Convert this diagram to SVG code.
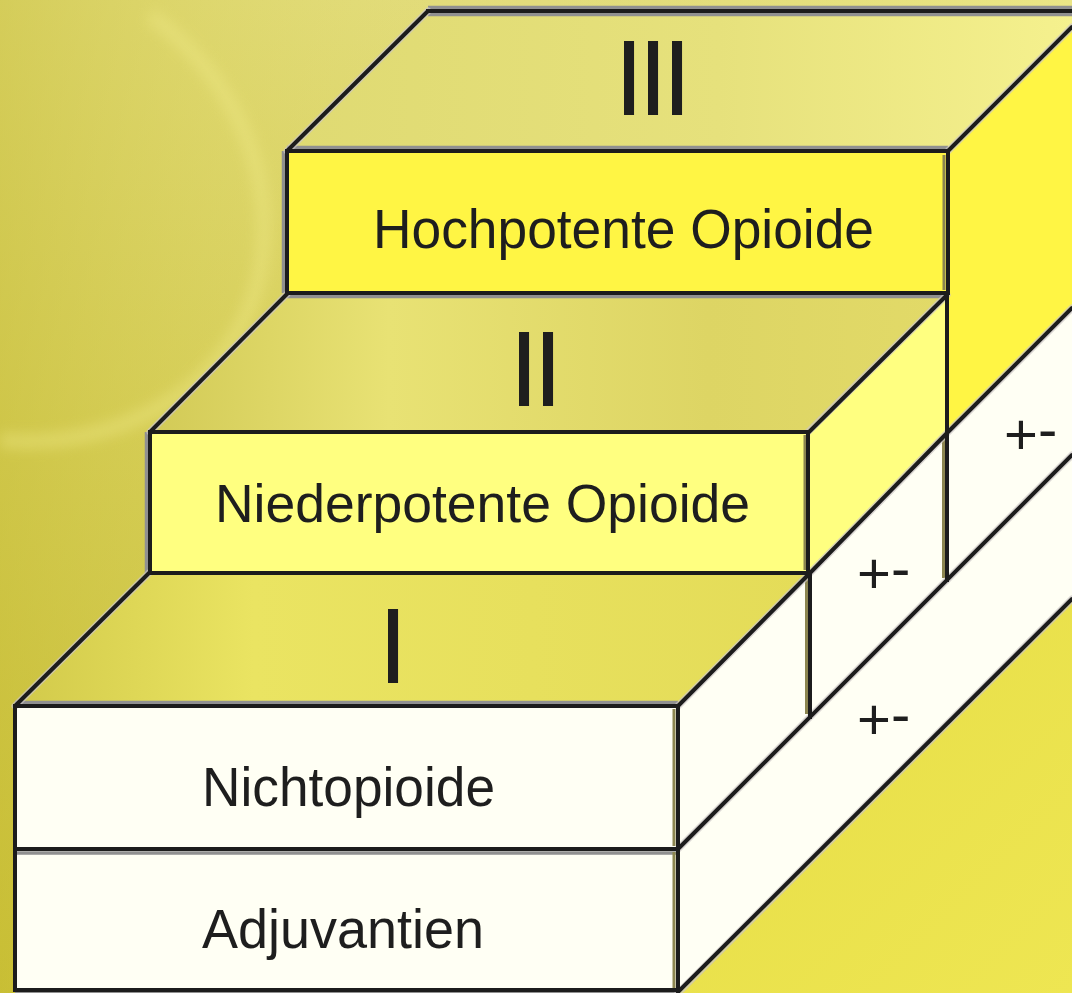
<svg xmlns="http://www.w3.org/2000/svg" width="1072" height="993" viewBox="0 0 1072 993">
  <style>
    .edge { fill: none; stroke: #1c1c1c; stroke-width: 4; stroke-linejoin: miter; stroke-linecap: square; }
    .diag { fill: none; stroke: #1c1c1c; stroke-width: 4; stroke-linecap: round; }
    .halo { fill: none; stroke: #cbc4c4; stroke-width: 7; opacity: 0.7; stroke-linecap: round; }
    .shade { fill: none; stroke: #909090; stroke-width: 3.5; }
    .oshade { fill: none; stroke: #8c8650; stroke-width: 3; }
    .lbl { font-family: "Liberation Sans", Arial, sans-serif; fill: #1e1e1e; }
    .roman { font-family: "Liberation Sans", Arial, sans-serif; font-size: 108px; fill: #1e1e1e; letter-spacing: -6px; }
    .pm { font-family: "Liberation Sans", Arial, sans-serif; font-size: 58px; fill: #1e1e1e; }
  </style>
  <defs>
    <linearGradient id="bgV" x1="0" y1="0" x2="0" y2="1">
      <stop offset="0" stop-color="#e2dc7c"/>
      <stop offset="0.5" stop-color="#d6ce58"/>
      <stop offset="1" stop-color="#ccc238"/>
    </linearGradient>
    <linearGradient id="bgH" x1="0" y1="0" x2="1" y2="0">
      <stop offset="0" stop-color="#c4ba30" stop-opacity="0.45"/>
      <stop offset="0.5" stop-color="#e8e270" stop-opacity="0"/>
      <stop offset="1" stop-color="#f4f090" stop-opacity="0.5"/>
    </linearGradient>
    <linearGradient id="lowRight" x1="0" y1="0" x2="1" y2="1">
      <stop offset="0" stop-color="#e6dd46"/>
      <stop offset="1" stop-color="#eee652"/>
    </linearGradient>
    <linearGradient id="top3" x1="0" y1="0" x2="1" y2="0">
      <stop offset="0" stop-color="#dfda72"/>
      <stop offset="0.55" stop-color="#e6e17c"/>
      <stop offset="1" stop-color="#f5f18e"/>
    </linearGradient>
    <linearGradient id="top2" x1="0" y1="0" x2="1" y2="0">
      <stop offset="0" stop-color="#d2ca56"/>
      <stop offset="0.3" stop-color="#e8e274"/>
      <stop offset="0.7" stop-color="#ddd564"/>
      <stop offset="1" stop-color="#e2da68"/>
    </linearGradient>
    <linearGradient id="top1" x1="0" y1="0" x2="1" y2="0">
      <stop offset="0" stop-color="#d2ca4a"/>
      <stop offset="0.3" stop-color="#eae462"/>
      <stop offset="1" stop-color="#e4dc58"/>
    </linearGradient>
    <filter id="blur" x="-30%" y="-30%" width="160%" height="160%">
      <feGaussianBlur stdDeviation="7"/>
    </filter>
  </defs>

  <g id="background">
    <rect x="0" y="0" width="1072" height="993" fill="url(#bgV)"/>
    <rect x="0" y="0" width="1072" height="993" fill="url(#bgH)"/>
    <path d="M0,440 C120,452 245,385 262,260 C275,160 225,70 150,15" fill="none" stroke="#f0ea88" stroke-width="14" opacity="0.45" filter="url(#blur)"/>
    <polygon points="678,993 1072,599 1072,993" fill="url(#lowRight)"/>
  </g>

  <g id="step-3">
    <polygon points="287,151 948,151 1072,27 1072,11 428,11" fill="url(#top3)"/>
    <polygon points="947,154 1072,29 1072,308 947,433" fill="#fff544"/>
    <rect x="287" y="151" width="661" height="142" fill="#fff544"/>
    <text class="roman" x="614" y="115">III</text>
    <text class="lbl" x="373" y="248" font-size="55" textLength="501" lengthAdjust="spacingAndGlyphs">Hochpotente Opioide</text>
  </g>

  <g id="step-2">
    <polygon points="150,432 808,432 947,294 287,294" fill="url(#top2)"/>
    <polygon points="808,434 947,295 947,434 808,573" fill="#ffff80"/>
    <rect x="150" y="432" width="658" height="141" fill="#ffff80"/>
    <text class="roman" x="509" y="406">II</text>
    <text class="lbl" x="215" y="522" font-size="54" textLength="535" lengthAdjust="spacingAndGlyphs">Niederpotente Opioide</text>
  </g>

  <g id="strip-nichtopioide">
    <polygon points="678,706 810,573 947,433 1072,308 1072,455 678,849" fill="#fffff4"/>
    <text class="pm" x="1004" y="454">+<tspan dy="-5">-</tspan></text>
    <text class="pm" x="857" y="593">+<tspan dy="-5">-</tspan></text>
  </g>

  <g id="strip-adjuvantien">
    <polygon points="678,849 1072,455 1072,599 678,993" fill="#fffff4"/>
    <text class="pm" x="857" y="739">+<tspan dy="-5">-</tspan></text>
  </g>

  <g id="step-1">
    <polygon points="15,706 678,706 810,573 149,573" fill="url(#top1)"/>
    <rect x="15" y="706" width="663" height="143" fill="#fffff4"/>
    <rect x="15" y="849" width="663" height="141" fill="#fffff4"/>
    <text class="roman" x="378" y="683">I</text>
    <text class="lbl" x="202" y="806" font-size="55" textLength="293" lengthAdjust="spacingAndGlyphs">Nichtopioide</text>
    <text class="lbl" x="202" y="948" font-size="55" textLength="282" lengthAdjust="spacingAndGlyphs">Adjuvantien</text>
  </g>

  <g id="connectors">
    <path class="shade" d="M428,7.5 H1072 M428,14.5 H1072"/>
    <path class="shade" d="M287,147.5 H948 M283.5,151 V293 M287,296.5 H947"/>
    <path class="shade" d="M146.5,432 V573"/>
    <path class="shade" d="M15,702.5 H678 M15,853 H678 M15,992 H678"/>
    <path class="oshade" d="M944,155 V290 M805,435 V570 M674,709 V846 M674,852 V988 M943.5,437 V578 M806.5,576 V714"/>
    <path class="halo" d="M287,151 L428,11 M948,151 L1072,27 M150,432 L287,294 M808,432 L947,295 M15,706 L149,573 M678,706 L810,573 L947,433 L1072,308 M678,849 L1072,455 M678,993 L1072,599"/>
    <path class="edge" d="M428,11 H1072"/>
    <path class="diag" d="M287,151 L428,11"/>
    <path class="diag" d="M948,151 L1072,27"/>
    <rect class="edge" x="287" y="151" width="661" height="142"/>
    <path class="edge" d="M947,293 V580"/>
    <path class="diag" d="M150,432 L287,294"/>
    <path class="diag" d="M808,433 L947,295"/>
    <rect class="edge" x="150" y="432" width="658" height="141"/>
    <path class="edge" d="M150,573 H808" stroke-width="5"/>
    <path class="diag" d="M678,706 L810,573 L947,433 L1072,308"/>
    <path class="diag" d="M15,706 L149,573"/>
    <path class="edge" d="M810,573 V717"/>
    <path class="diag" d="M678,849 L1072,455"/>
    <path class="diag" d="M678,992 L1072,599"/>
    <rect class="edge" x="15" y="706" width="663" height="284"/>
    <path class="edge" d="M15,849 H678" stroke-width="6"/>
  </g>
</svg>
